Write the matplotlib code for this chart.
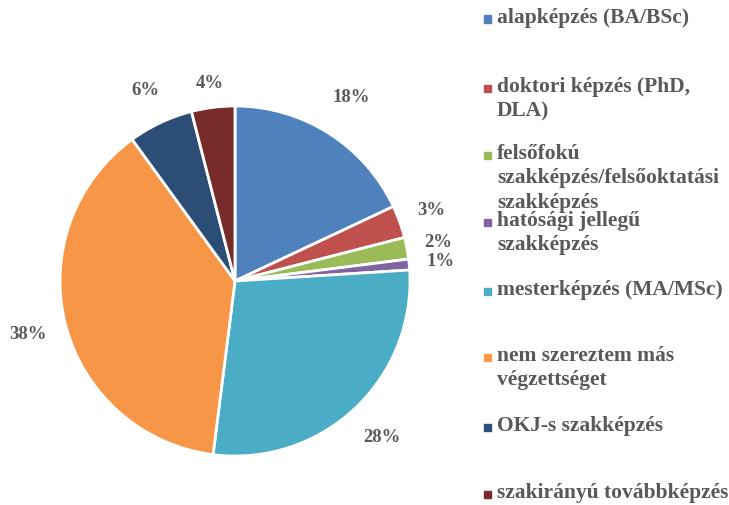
import matplotlib
matplotlib.use("Agg")
import matplotlib.pyplot as plt
from matplotlib.patches import Rectangle
import numpy as np

# ---------------- Data ----------------

categories = [
    "alapképzés (BA/BSc)",
    "doktori képzés (PhD,\nDLA)",
    "felsőfokú\nszakképzés/felsőoktatási\nszakképzés",
    "hatósági jellegű\nszakképzés",
    "mesterképzés (MA/MSc)",
    "nem szereztem más\nvégzettséget",
    "OKJ-s szakképzés",
    "szakirányú továbbképzés",
]
shares = [18, 3, 2, 1, 28, 38, 6, 4]
colors = ["#4F81BD", "#C0504D", "#9BBB59", "#8064A2",
          "#4BACC6", "#F79646", "#2C4D75", "#772C2A"]

# label distance from centre (in radii) per slice
label_dist = [1.24, 1.19, 1.18, 1.18, 1.23, 1.22, 1.2, 1.14]

# legend rows (pixel y of first line, from top)
legend_y = [19, 88, 155, 222, 291, 357, 427, 494]

textColor = "#595959"
plt.rcParams['font.family'] = ['Liberation Serif', 'DejaVu Serif']

W, H = 729, 505
fig = plt.figure(figsize=(W / 100, H / 100), dpi=100)

# ---------------- Pie ----------------
ax = fig.add_axes([60 / W, (H - 456) / H, 350 / W, 350 / H])
wedges, texts = ax.pie(
    shares, colors=colors, startangle=90, counterclock=False, radius=1,
    wedgeprops=dict(edgecolor="white", linewidth=2))
ax.set_xlim(-1, 1)
ax.set_ylim(-1, 1)
ax.set_aspect("equal")

# percentage labels placed along each slice's middle angle
for w, v, d in zip(wedges, shares, label_dist):
    ang = np.deg2rad((w.theta1 + w.theta2) / 2)
    ax.text(d * np.cos(ang), d * np.sin(ang), f"{v}%", ha="center", va="center",
            fontsize=13.5, fontweight="bold", color=textColor)

# ---------------- Legend (manual) ----------------
for label, col, y in zip(categories, colors, legend_y):
    yf = (H - y) / H
    fig.patches.append(Rectangle((484 / W, yf - 3.5 / H), 7 / W, 7 / H,
                                 transform=fig.transFigure, color=col))
    fig.text(497 / W, yf + 11 / H, label, ha="left", va="top",
             fontsize=15.5, fontweight="bold", color=textColor,
             linespacing=1.3)

fig.savefig("out.png", dpi=100)
